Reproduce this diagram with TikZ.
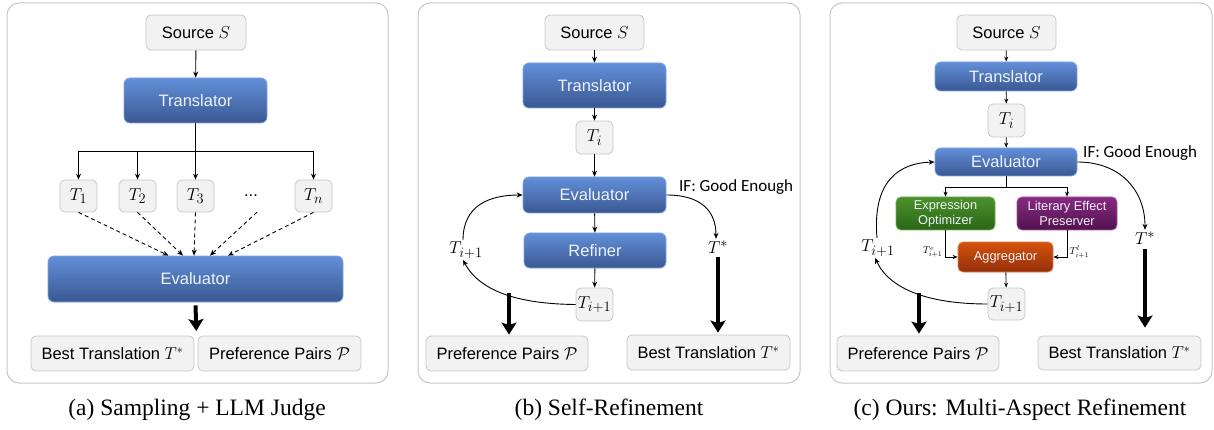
\documentclass[tikz,border=0pt]{standalone}
\usepackage{fontspec}
\setmainfont{Liberation Sans}
\newfontfamily\capfont{Liberation Serif}
\newfontfamily\calfont{Carlito}
\usetikzlibrary{arrows.meta}
\definecolor{gfill}{RGB}{242,242,242}
\definecolor{gline}{RGB}{198,198,198}
\definecolor{btop}{RGB}{98,143,217}
\definecolor{bbot}{RGB}{58,88,146}
\definecolor{bline}{RGB}{125,163,228}
\definecolor{grtop}{RGB}{76,145,44}
\definecolor{grbot}{RGB}{42,102,22}
\definecolor{grline}{RGB}{110,175,80}
\definecolor{putop}{RGB}{135,42,128}
\definecolor{pubot}{RGB}{82,18,78}
\definecolor{puline}{RGB}{165,85,160}
\definecolor{ortop}{RGB}{212,82,12}
\definecolor{orbot}{RGB}{148,48,12}
\definecolor{orline}{RGB}{225,125,70}
\definecolor{wtext}{RGB}{238,242,250}
\begin{document}
\begin{tikzpicture}[x=1pt,y=-1pt,
  gbox/.style={draw=gline,fill=gfill,rounded corners=5pt,line width=0.8pt,inner sep=0pt,
    font=\fontsize{16.5}{19}\selectfont,text=black},
  tbox/.style={gbox,minimum width=37pt,font=\fontsize{19}{21}\selectfont},
  bbox/.style={draw=bline,top color=btop,bottom color=bbot,rounded corners=6pt,line width=0.8pt,
    inner sep=0pt,font=\fontsize{16.5}{19}\selectfont,text=wtext},
  sbox/.style={rounded corners=5pt,line width=0.8pt,inner sep=0pt,align=center,
    font=\fontsize{12.8}{14.5}\selectfont,text=wtext},
  arr/.style={-{Stealth[length=6pt,width=5pt]},line width=0.9pt},
  sarr/.style={-{Stealth[length=5pt,width=4pt]},line width=0.8pt},
  dasharr/.style={arr,dash pattern=on 4pt off 3pt},
  bigarr/.style={-{Stealth[length=12pt,width=15pt,inset=2.5pt]},line width=4pt},
  frame/.style={draw=gline,rounded corners=12pt,line width=1pt},
  capt/.style={font=\capfont\fontsize{23.5}{27}\selectfont},
  mlab/.style={font=\fontsize{19}{21}\selectfont,inner sep=1.5pt},
  iflab/.style={font=\calfont\fontsize{17}{19}\selectfont,anchor=west,inner sep=0pt},
  tiny/.style={font=\fontsize{10}{11}\selectfont,inner sep=0.5pt}
]
\useasboundingbox (0,0) rectangle (1214,430);

% frames
\draw[frame] (7,3) rectangle (388,383);
\draw[frame] (418,3) rectangle (800,383);
\draw[frame] (830,3) rectangle (1212,383);

% ---------- panel a ----------
\node[gbox,minimum width=100pt,minimum height=35pt] (asrc) at (196,32.5) {Source $S$};
\node[bbox,minimum width=143pt,minimum height=45pt] (atr) at (195.5,100.5) {Translator};
\node[tbox,minimum height=32pt] (at1) at (78.5,196) {$T_1$};
\node[tbox,minimum height=32pt] (at2) at (137.5,196) {$T_2$};
\node[tbox,minimum height=32pt] (at3) at (195.5,196) {$T_3$};
\node[inner sep=0pt,minimum height=32pt,font=\fontsize{16.5}{19}\selectfont] (adots) at (251,196) {...};
\node[tbox,minimum height=32pt] (atn) at (313.5,196) {$T_n$};
\node[bbox,minimum width=295pt,minimum height=46pt] (aev) at (195.5,279) {Evaluator};
\node[gbox,minimum width=163pt,minimum height=35pt] (abest) at (112.5,353.5) {Best Translation $T^*$};
\node[gbox,minimum width=163pt,minimum height=35pt] (apref) at (279.5,353.5) {Preference Pairs $\mathcal{P}$};
\node[capt] (acap) at (197,410) {(a) Sampling + LLM Judge};

\draw[arr] (asrc) -- (atr);
\coordinate (abus) at (195.5,151);
\draw[line width=0.9pt] (atr.south) -- (abus);
\draw[arr] (abus) -| (at1.north);
\draw[arr] (abus) -| (at2.north);
\draw[arr] (abus) -- (at3.north);
\draw[arr] (abus) -| (atn.north);
\draw[dasharr] (at1.south) -- ([xshift=-27pt]aev.north);
\draw[dasharr] (at2.south) -- ([xshift=-12.5pt]aev.north);
\draw[dasharr] (at3.south) -- ([xshift=-1.5pt]aev.north);
\draw[dasharr] ([xshift=6pt]adots.south) -- ([xshift=14.5pt]aev.north);
\draw[dasharr] (atn.south) -- ([xshift=32.5pt]aev.north);
\coordinate (ajoin) at (196.5,336);
\draw[bigarr,shorten >=5pt] ([yshift=-3pt]aev.south) -- (ajoin);

% ---------- panel b ----------
\node[gbox,minimum width=99pt,minimum height=35pt] (bsrc) at (594.5,32.5) {Source $S$};
\node[bbox,minimum width=143pt,minimum height=45pt] (btr) at (594.5,85.5) {Translator};
\node[tbox,minimum height=33pt] (bti) at (594.5,137.5) {$T_i$};
\node[bbox,minimum width=143pt,minimum height=36pt] (bev) at (594.5,195) {Evaluator};
\node[iflab] (bif) at (679,187) {IF: Good Enough};
\node[bbox,minimum width=142pt,minimum height=35pt] (bref) at (595,250.5) {Refiner};
\node[tbox,minimum height=33pt] (btn) at (594.5,304.5) {$T_{i+1}$};
\node[mlab] (blab) at (466,250) {$T_{i+1}$};
\node[mlab] (bstar) at (718,247) {$T^*$};
\node[gbox,minimum width=162pt,minimum height=35pt] (bpref) at (507,353.5) {Preference Pairs $\mathcal{P}$};
\node[gbox,minimum width=163pt,minimum height=35pt] (bbest) at (708.5,352.5) {Best Translation $T^*$};
\node[capt] (bcap) at (609,410) {(b) Self-Refinement};

\draw[arr] (bsrc) -- (btr);
\draw[arr] (btr) -- (bti);
\draw[arr] (bti) -- (bev);
\draw[arr] (bev) -- (bref);
\draw[arr] (bref) -- (btn);
\draw[arr] (btn.west) .. controls (520,304) and (480,292) .. ([xshift=-3pt]blab.south);
\draw[arr] ([xshift=-3pt]blab.north) .. controls (463,205) and (490,195) .. (bev.west);
\draw[arr] (bev.east) .. controls (700,195) and (716,210) .. ([xshift=-2pt]bstar.north);
\coordinate (bpa) at (509,293);
\draw[bigarr,shorten >=1pt] (bpa) -- (bpa |- bpref.north);
\draw[bigarr,shorten >=2pt] ([yshift=-2pt]bstar.south) -- (bstar |- bbest.north);

% ---------- panel c ----------
\node[gbox,minimum width=99pt,minimum height=35pt] (csrc) at (1006.5,32.5) {Source $S$};
\node[bbox,minimum width=142pt,minimum height=29pt] (ctr) at (1006,76.5) {Translator};
\node[tbox,minimum height=33pt] (cti) at (1006.5,120.5) {$T_i$};
\node[bbox,minimum width=142pt,minimum height=28pt] (cev) at (1006,162) {Evaluator};
\node[iflab] (cif) at (1083,153) {IF: Good Enough};
\node[sbox,draw=grline,top color=grtop,bottom color=grbot,minimum width=99pt,minimum height=33pt] (cexp) at (945.5,213.5) {Expression\\Optimizer};
\node[sbox,draw=puline,top color=putop,bottom color=pubot,minimum width=100pt,minimum height=33pt] (clit) at (1067,213.5) {Literary Effect\\Preserver};
\node[sbox,draw=orline,top color=ortop,bottom color=orbot,minimum width=95pt,minimum height=30pt] (cagg) at (1005.5,257) {Aggregator};
\node[tbox,minimum height=32pt] (ctn) at (1006.5,304) {$T_{i+1}$};
\node[mlab] (clab) at (878,248) {$T_{i+1}$};
\node[mlab] (cstar) at (1145,238) {$T^*$};
\node[tiny,anchor=east] (cte) at (943,252) {$T^{e}_{i+1}$};
\node[tiny,anchor=west] (ctl) at (1069,252) {$T^{l}_{i+1}$};
\node[gbox,minimum width=162pt,minimum height=35pt] (cpref) at (918,353.5) {Preference Pairs $\mathcal{P}$};
\node[gbox,minimum width=163pt,minimum height=34pt] (cbest) at (1119.5,353) {Best Translation $T^*$};
\node[capt] (ccap) at (1020,410) {(c) Ours: Multi-Aspect Refinement};

\draw[sarr] (csrc) -- (ctr);
\draw[sarr] (ctr) -- (cti);
\draw[sarr] (cti) -- (cev);
\coordinate (cbus) at (1006,187);
\draw[line width=0.8pt] (cev.south) -- (cbus);
\draw[sarr] (cbus) -| (cexp.north);
\draw[sarr] (cbus) -| (clit.north);
\draw[sarr] (cexp.south) |- (cagg.west);
\draw[sarr] (clit.south) |- (cagg.east);
\draw[sarr] (cagg) -- (ctn);
\draw[arr] (ctn.west) .. controls (930,304) and (890,290) .. ([xshift=-3pt]clab.south);
\draw[arr] ([xshift=-1pt]clab.north) .. controls (872,180) and (900,163) .. (cev.west);
\draw[arr] (cev.east) .. controls (1120,162) and (1145,190) .. (cstar.north);
\coordinate (cpa) at (919,293);
\draw[bigarr,shorten >=2pt] (cpa) -- (cpa |- cpref.north);
\draw[bigarr,shorten >=8pt] ([yshift=-3pt]cstar.south) -- (cstar |- cbest.north);
\end{tikzpicture}
\end{document}
